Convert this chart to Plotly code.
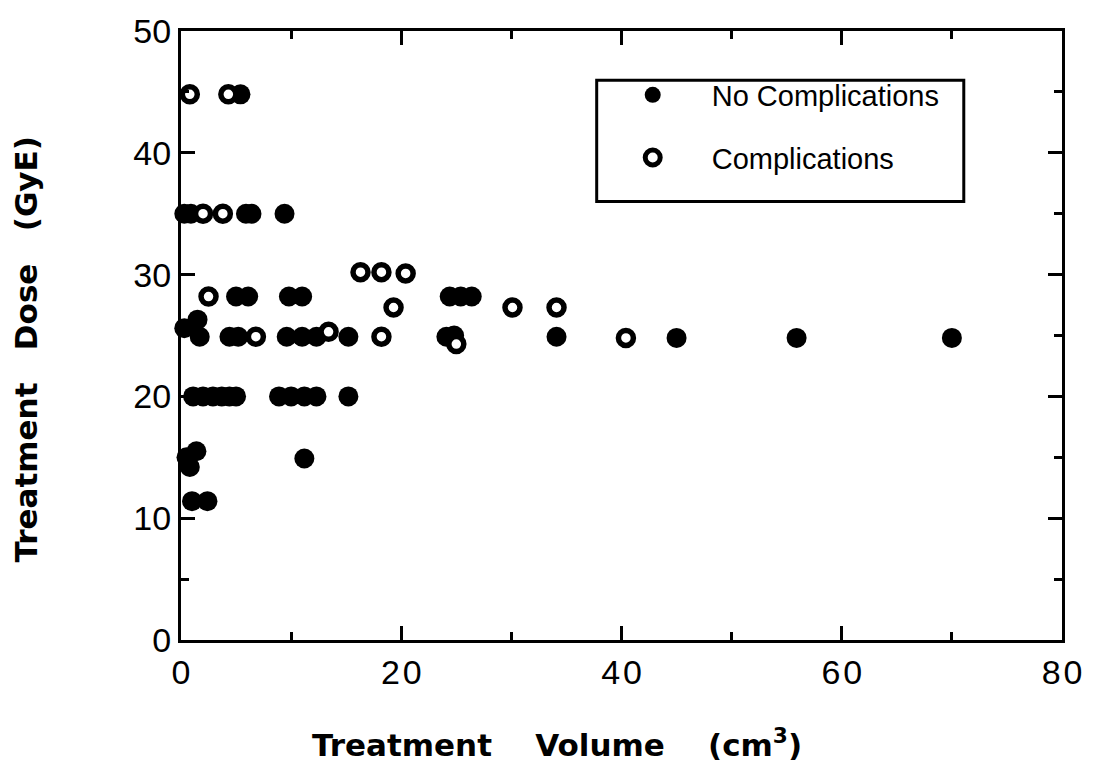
import plotly.graph_objects as go

# No complications (filled)
nc_volume = [5.4,
             0.3, 0.9, 5.9, 6.4, 9.4,
             5.0, 6.1, 9.8, 11.0, 24.4, 25.4, 26.4,
             1.5, 0.3,
             1.7, 4.4, 5.2, 9.6, 11.0, 12.3, 15.2, 24.1, 24.8, 34.1, 45.0, 55.9, 70.0,
             1.1, 2.0, 2.9, 3.7, 4.4, 5.0, 8.9, 10.0, 11.2, 12.3, 15.2,
             0.5, 0.8, 1.4, 11.2,
             1.0, 2.4]
nc_dose = [44.8,
           35.0, 35.0, 35.0, 35.0, 35.0,
           28.2, 28.2, 28.2, 28.2, 28.2, 28.2, 28.2,
           26.3, 25.6,
           24.9, 24.9, 24.9, 24.9, 24.9, 24.9, 24.9, 24.9, 25.0, 24.9, 24.8, 24.8, 24.8,
           20.0, 20.0, 20.0, 20.0, 20.0, 20.0, 20.0, 20.0, 20.0, 20.0, 20.0,
           15.0, 14.2, 15.5, 14.9,
           11.4, 11.4]

# Complications (open)
c_volume = [0.8, 4.3, 2.0, 3.8, 2.5, 6.8, 13.4, 16.3, 18.2, 20.4, 19.3, 18.2, 25.0, 30.1, 34.1, 40.4]
c_dose = [44.8, 44.8, 35.0, 35.0, 28.2, 24.9, 25.3, 30.2, 30.2, 30.1, 27.3, 24.9, 24.3, 27.3, 27.3, 24.8]

x_ticks = [0, 20, 40, 60, 80]
x_tick_labels = ["0", "2\u200a0", "4\u200a0", "6\u200a0", "8\u200a0"]
y_ticks = [0, 10, 20, 30, 40, 50]

fig = go.Figure()
fig.add_trace(go.Scatter(
    x=nc_volume, y=nc_dose, mode="markers", name="No Complications",
    marker=dict(symbol="circle", size=20, color="black", line=dict(width=0)),
    cliponaxis=False, legendgroup="a"))
fig.add_trace(go.Scatter(
    x=c_volume, y=c_dose, mode="markers", name="Complications",
    marker=dict(symbol="circle", size=15, color="white", line=dict(width=5.5, color="black")),
    cliponaxis=False, legendgroup="b"))

L, R, T, B = 181, 25, 22, 135
W, H = 1094, 775
pw, ph = W - L - R, H - T - B

def px_x(p):
    return (p - L) / pw

def px_y(p):
    return (H - B - p) / ph

axis_common = dict(
    showgrid=False, zeroline=False, showline=True, linecolor="black", linewidth=3,
    mirror="allticks", ticks="inside", ticklen=14, tickwidth=3, tickcolor="black",
    tickfont=dict(family="Liberation Sans", size=34, color="black"),
)

fig.update_layout(
    width=W, height=H, margin=dict(l=L, r=R, t=T, b=B),
    paper_bgcolor="white", plot_bgcolor="white",
    xaxis=dict(range=[0, 80], tickvals=x_ticks, ticktext=x_tick_labels,
               minor=dict(tickvals=[10, 30, 50, 70], ticklen=8, tickwidth=3, tickcolor="black", ticks="inside"),
               **axis_common),
    yaxis=dict(range=[0, 50], tickvals=y_ticks,
               minor=dict(tickvals=[5, 15, 25, 35, 45], ticklen=8, tickwidth=3, tickcolor="black", ticks="inside"),
               **axis_common),
    showlegend=True,
    legend=dict(x=px_x(597), y=px_y(61), xanchor="left", yanchor="top",
                bgcolor="rgba(0,0,0,0)", borderwidth=0,
                font=dict(family="Liberation Sans", size=29, color="black"),
                tracegroupgap=22, itemwidth=108),
    shapes=[dict(type="rect", xref="paper", yref="paper",
                 x0=px_x(600), x1=px_x(970), y0=px_y(195), y1=px_y(72),
                 line=dict(color="black", width=3))],
    annotations=[
        dict(text="Treatment\u00a0\u00a0\u00a0\u00a0Volume\u00a0\u00a0\u00a0\u00a0(cm<sup>3</sup>)",
             xref="paper", yref="paper", x=px_x(560), y=px_y(745), showarrow=False,
             xanchor="center", yanchor="middle",
             font=dict(family="DejaVu Sans", size=31, color="black", weight="bold")),
        dict(text="Treatment\u00a0\u00a0\u00a0Dose\u00a0\u00a0\u00a0(GyE)",
             xref="paper", yref="paper", x=px_x(25), y=px_y(345), showarrow=False,
             textangle=-90, xanchor="center", yanchor="middle",
             font=dict(family="DejaVu Sans", size=31, color="black", weight="bold")),
    ],
)

fig.write_html("out.html")
